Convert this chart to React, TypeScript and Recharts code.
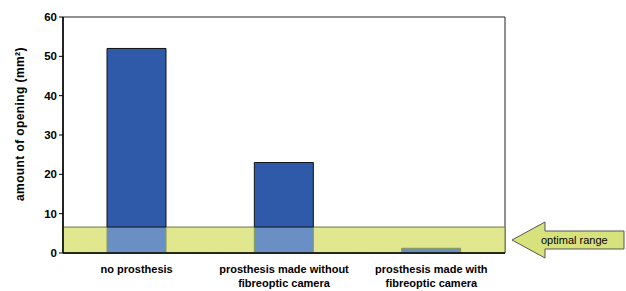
import React from "react";
import { Bar, BarChart, ReferenceArea, XAxis, YAxis } from "recharts";

const categories = [
  ["no prosthesis"],
  ["prosthesis made without", "fibreoptic camera"],
  ["prosthesis made with", "fibreoptic camera"],
];
const openingValues = [52, 23, 1.2];
const optimalTop = 6.6;
const yTicks = [0, 10, 20, 30, 40, 50, 60];

const chartData = categories.map((lines, i) => ({
  name: lines.join(" "),
  inRange: Math.min(openingValues[i], optimalTop),
  above: Math.max(openingValues[i] - optimalTop, 0),
}));

const font = "Arial, 'Liberation Sans', sans-serif";

function CategoryTick(props: any) {
  const { x, y, index } = props;
  const lines = categories[index] || [];
  return (
    <text x={x} y={y + 12} textAnchor="middle" fontFamily={font} fontSize={11} fontWeight="bold" fill="#000">
      {lines.map((line, i) => (
        <tspan key={i} x={x} dy={i === 0 ? 0 : 14}>
          {line}
        </tspan>
      ))}
    </text>
  );
}

export default function App() {
  return (
    <div style={{ position: "fixed", left: 0, top: 0, width: 626, height: 291, background: "#fff" }}>
      <BarChart
        width={626}
        height={291}
        data={chartData}
        margin={{ top: 17, right: 121, left: 3, bottom: 8 }}
        barSize={59}
      >
        <ReferenceArea y1={0} y2={60} fill="none" stroke="#222" strokeWidth={1} />
        <ReferenceArea y1={0} y2={optimalTop} fill="#e0e78e" fillOpacity={1} stroke="none" />
        <XAxis
          dataKey="name"
          height={30}
          tick={<CategoryTick />}
          tickLine={false}
          axisLine={{ stroke: "#000", strokeWidth: 1.5 }}
          interval={0}
        />
        <YAxis
          width={60}
          domain={[0, 60]}
          ticks={yTicks}
          tick={{ fill: "#000", fontSize: 11.5, fontWeight: "bold", fontFamily: font }}
          tickSize={4}
          tickLine={{ stroke: "#000" }}
          axisLine={{ stroke: "#000", strokeWidth: 1.5 }}
          label={{
            value: "amount of opening  (mm²)",
            angle: -90,
            position: "insideLeft",
            dx: 12,
            dy: 66,
            style: { fontFamily: font, fontSize: 12, fontWeight: "bold", fill: "#000", letterSpacing: 0.4 },
          }}
        />
        <Bar dataKey="inRange" stackId="a" fill="#6a8fc5" stroke="#8a9a50" isAnimationActive={false} />
        <Bar dataKey="above" stackId="a" fill="#2f5aa9" stroke="#111" isAnimationActive={false} />
        <ReferenceArea y1={0} y2={optimalTop} fill="none" stroke="#6f7440" strokeWidth={1} />
      </BarChart>
      <svg width={626} height={291} style={{ position: "absolute", left: 0, top: 0, pointerEvents: "none" }}>
        <polygon
          points="512,240 545,222 545,231 624,231 624,249 545,249 545,258"
          fill="#d8e27c"
          stroke="#555"
          strokeWidth={1}
        />
        <text x={541} y={244} fontFamily={font} fontSize={11} fill="#000">
          optimal range
        </text>
      </svg>
    </div>
  );
}
